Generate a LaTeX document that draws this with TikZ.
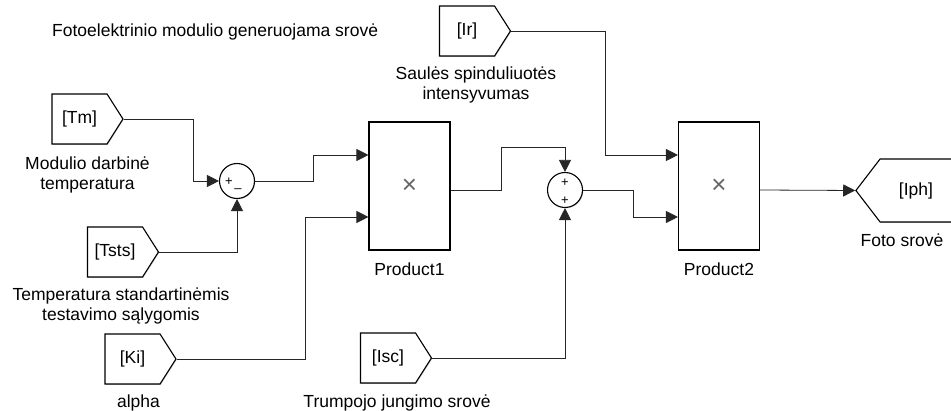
\documentclass[tikz,border=0pt]{standalone}
\usepackage{fontspec}
\setmainfont{Liberation Sans}
\usetikzlibrary{positioning,calc,arrows.meta,shapes.symbols,shadows}

\tikzset{
  blk/.style={draw,line width=1.1pt,fill=white,
    drop shadow={shadow xshift=.8pt,shadow yshift=-.8pt,opacity=.2,fill=black}},
  frm/.style={blk,shape=signal,signal to=east,signal pointer angle=115,
    minimum width=71pt,minimum height=50pt,inner sep=0pt},
  gto/.style={blk,shape=signal,signal to=west,signal pointer angle=105,
    minimum width=96pt,minimum height=63pt,inner sep=0pt},
  prod/.style={blk,minimum width=81pt,minimum height=128pt,inner sep=0pt,
    font=\fontsize{26}{26}\selectfont,text=black!60},
  sumblk/.style={blk,circle,minimum size=35pt,inner sep=0pt},
  sgn/.style={font=\fontsize{13}{13}\selectfont,inner sep=0pt},
  lbl/.style={align=center,inner sep=0pt},
  wire/.style={line width=.8pt,draw=black!85},
  sig/.style={wire,-{Triangle[length=12pt,width=12pt]}},
}

\begin{document}
\begin{tikzpicture}[x=1pt,y=-1pt,every node/.style={font=\fontsize{17.5}{20}\selectfont}]
    \useasboundingbox (0,0) rectangle (951,411);

    \node[anchor=west,inner sep=0pt] (title) at (52,32) {Fotoelektrinio modulio generuojama srovė};

    % from blocks
    \node[frm] (tm) at (79.5,119) {[Tm]};
    \node[frm] (tsts) at (115,252) {[Tsts]};
    \node[frm] (ki) at (132.5,359) {[Ki]};
    \node[frm] (isc) at (388,358) {[Isc]};
    \node[frm] (ir) at (467,31) {[Ir]};
    \node[gto] (iph) at (916,190.5) {[Iph]};

    \node[lbl,below=12pt of tm,xshift=8pt] (tmlbl) {Modulio darbinė\\temperatura};
    \node[lbl,below=10pt of tsts,xshift=6pt] (tstslbl) {Temperatura standartinėmis\\testavimo sąlygomis};
    \node[lbl,below=10pt of ki,xshift=6pt] (kilbl) {alpha};
    \node[lbl,below=11pt of isc,xshift=9pt] (isclbl) {Trumpojo jungimo srovė};
    \node[lbl,below=10pt of ir,xshift=9pt] (irlbl) {Saulės spinduliuotės\\intensyvumas};
    \node[lbl,below=11pt of iph,xshift=-14pt] (iphlbl) {Foto srovė};

    % sums
    \node[sumblk] (s1) at (237,181) {};
    \node[sgn] (s1a) at ($(s1)+(-8,1)$) {+};
    \node[sgn] (s1b) at ($(s1)+(1,10)$) {–};
    \node[sumblk] (s2) at (565,190) {};
    \node[sgn] (s2a) at ($(s2)+(0,-7)$) {+};
    \node[sgn] (s2b) at ($(s2)+(0,11)$) {+};

    % products
    \node[prod] (p1) at (409.5,186) {×};
    \node[prod] (p2) at (719,186) {×};
    \node[lbl,below=12pt of p1] (p1lbl) {Product1};
    \node[lbl,below=12pt of p2] (p2lbl) {Product2};

    \coordinate (p1in1) at ($(p1.west)+(0,-31)$);
    \coordinate (p1in2) at ($(p1.west)+(0,31)$);
    \coordinate (p1out) at ($(p1.east)+(0,4)$);
    \coordinate (p2in1) at ($(p2.west)+(0,-31)$);
    \coordinate (p2in2) at ($(p2.west)+(0,31)$);
    \coordinate (p2out) at ($(p2.east)+(0,4)$);

    % signals
    \draw[sig] (tm.east) -- ++(70,0) |- (s1.west);
    \draw[sig] (tsts.east) -| (s1.south);
    \draw[sig] (s1.east) -- ++(58,0) |- (p1in1);
    \draw[sig] (ki.east) -- ++(129,0) |- (p1in2);
    \draw[sig] (p1out) -- ++(51,0) |- ($(s2.north)+(0,-25)$) -- (s2.north);
    \draw[sig] (isc.east) -| (s2.south);
    \draw[sig] (s2.east) -- ++(50,0) |- (p2in2);
    \draw[sig] (ir.east) -- ++(94,0) |- (p2in1);
    \draw[sig] (p2out) -- (iph.west);
\end{tikzpicture}
\end{document}
